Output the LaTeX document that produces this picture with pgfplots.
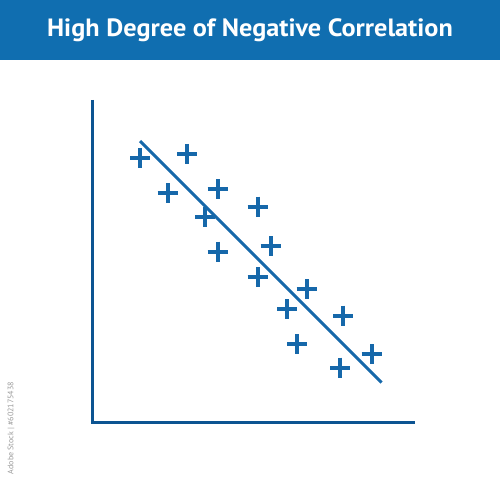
\documentclass[border=0pt]{standalone}
\usepackage{pgfplots}
\pgfplotsset{compat=1.18}
\usepackage{fontspec}
\setmainfont{PT Sans}
\definecolor{hdr}{RGB}{16,110,176}
\definecolor{mk}{RGB}{22,104,170}
\definecolor{ax}{RGB}{12,84,146}
\begin{document}
\begin{tikzpicture}
\begin{axis}[
  scale only axis, width=500pt, height=497pt,
  xmin=0, xmax=500, ymin=0, ymax=497, y dir=reverse,
  hide axis, clip=false,
]
\fill[hdr] (axis cs:0,0) rectangle (axis cs:500,60);
\node[text=white, font=\fontsize{25}{27}\selectfont\bfseries] at (axis cs:250,30) {\scalebox{1.05}[1]{High Degree of Negative Correlation}};
\node[rotate=90, text=gray!80, font=\fontsize{8}{9}\selectfont] at (axis cs:11,428) {Adobe Stock | \#602175438};
\draw[ax, line width=3.5pt] (axis cs:92.5,100) -- (axis cs:92.5,422.5) -- (axis cs:415,422.5);
\addplot[mk, line width=3pt, no marks] coordinates {(140,141) (381.5,382.5)};
\addplot[only marks, mark=+, mark size=10pt, mk, mark options={line width=4pt}] coordinates {
(140,158.3) (187.3,154) (167.7,193.3) (217.7,189.3) (205,217.3)
(257.7,206.7) (217.7,251.7) (270.7,246) (257.7,277.3) (306.7,289.3)
(287.3,309.3) (343.3,315.7) (297.3,344) (371.7,354) (340,367.7)};
\end{axis}
\end{tikzpicture}
\end{document}
